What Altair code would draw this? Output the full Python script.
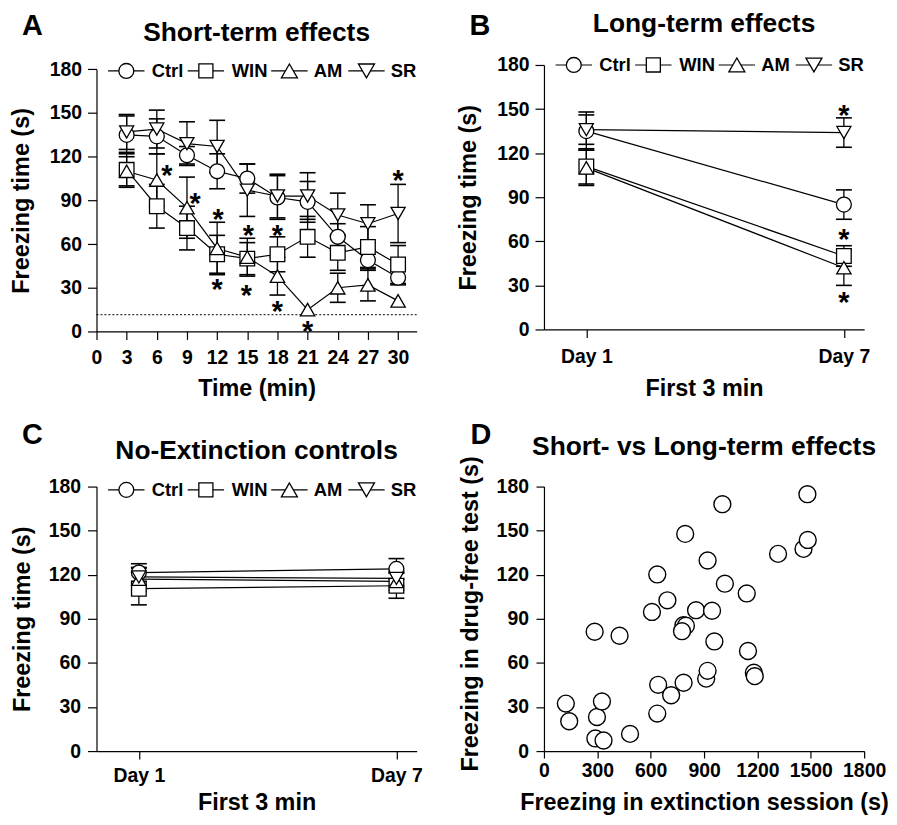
import altair as alt
import pandas as pd

FONT = "Liberation Sans"
GROUPS = ["Ctrl", "WIN", "AM", "SR"]
SHAPES = ["circle", "square", "triangle-up", "triangle-down"]
SIZES = [225, 200, 260, 260]

# ---------------- Panel A: short-term effects ----------------
time_min = [3, 6, 9, 12, 15, 18, 21, 24, 27, 30]
ctrl_mean = [135, 134, 121, 110, 105, 92, 89, 65, 49, 37]
ctrl_sem = [13, 12, 6, 12, 10, 15, 14, 9, 7, 5]
win_mean = [111, 86, 71, 53, 50, 53, 65, 54, 58, 46]
win_sem = [12, 15, 15, 13, 11, 12, 14, 12, 14, 13]
am_mean = [110, 104, 85, 57, 51, 38, 15, 30, 32, 21]
am_sem = [10, 18, 21, 18, 13, 13, 0, 10, 11, 0]
sr_mean = [137, 139, 129, 127, 97, 93, 93, 80, 74, 81]
sr_sem = [12, 13, 15, 18, 18, 15, 16, 15, 13, 20]
threshold_level = [11.5]
star_a_time = [7, 9.8, 12.1, 12, 15.1, 14.9, 18, 18, 21, 30]
star_a_value = [111.5, 92, 81, 33, 70.5, 28.8, 70.5, 18.3, 4.3, 108]

# ---------------- Panel B: long-term effects ----------------
day = [1, 7]
b_ctrl_mean = [135, 85]
b_ctrl_sem = [13, 10]
b_win_mean = [111, 50]
b_win_sem = [12, 7]
b_am_mean = [110, 42]
b_am_sem = [12, 12]
b_sr_mean = [136, 134]
b_sr_sem = [10, 10]
star_b_day = [7, 7, 7]
star_b_value = [150, 65.7, 23]

# ---------------- Panel C: no-extinction controls ----------------
c_ctrl_mean = [121.5, 124]
c_ctrl_sem = [6, 7]
c_win_mean = [110.5, 112.5]
c_win_sem = [11, 8.5]
c_am_mean = [117, 115.5]
c_am_sem = [8, 6]
c_sr_mean = [118.5, 117.5]
c_sr_sem = [6, 5]

# ---------------- Panel D: short vs long-term ----------------
extinction_freezing = [123, 142, 285, 298, 289, 335, 326, 425, 484, 607, 637, 642,
                       637, 694, 715, 794, 784, 798, 776, 785, 855, 945, 920, 958,
                       912, 920, 1003, 1017, 1140, 1147, 1180, 1185, 1316, 1459, 1483, 1481]
drugfree_freezing = [32.3, 20.3, 81.2, 23.2, 8.6, 7.2, 33.8, 78.5, 11.7, 94.7, 120.2, 45.1,
                     25.5, 102.6, 38, 147.8, 85.7, 85.3, 81.6, 46.5, 95.9, 95.5, 129.7, 74.6,
                     49.3, 54.6, 168, 113.9, 107.3, 68.1, 53.3, 51, 134.2, 137.6, 143.7, 174.8]

shape_scale = alt.Scale(domain=GROUPS, range=SHAPES)
size_scale = alt.Scale(domain=GROUPS, range=SIZES)
ONE = pd.DataFrame({"k": [0]})


def long_df(xs, series):
    rows = []
    for g, (means, sems) in zip(GROUPS, series):
        for xv, m, s in zip(xs, means, sems):
            rows.append(dict(x=xv, y=m, lo=m - s, hi=m + s, sem=s, group=g))
    return pd.DataFrame(rows)


def text_mark(txt, x, y, size, align="left"):
    return alt.Chart(ONE).mark_text(
        text=txt, align=align, baseline="alphabetic", font=FONT, fontSize=size,
        fontWeight="bold", color="black"
    ).encode(x=alt.value(x), y=alt.value(y))


def legend_layers(ly):
    out = []
    mxs = [30, 110, 194, 271.5]
    txs = [55.5, 136, 218.5, 296]
    for g, shp, sz, mx, tx in zip(GROUPS, SHAPES, SIZES, mxs, txs):
        out.append(alt.Chart(ONE).mark_rule(color="black", strokeWidth=1.2).encode(
            x=alt.value(mx - 18.3), x2=alt.value(mx + 18.3), y=alt.value(ly)))
        out.append(alt.Chart(ONE).mark_point(
            shape=shp, size=sz, filled=True, fill="white", stroke="black",
            strokeWidth=1.3, opacity=1).encode(x=alt.value(mx), y=alt.value(ly)))
        out.append(alt.Chart(ONE).mark_text(
            text=g, align="left", baseline="middle", font=FONT, fontSize=18.5,
            fontWeight="bold", color="black").encode(x=alt.value(tx), y=alt.value(ly)))
    return out


def group_panel(df, stars, xs, xa, ys, ya, h, letter, letter_y, heading, heading_y,
                legend_y, ref=None):
    X = alt.X("x:Q", scale=xs, axis=xa)
    Y = alt.Y("y:Q", scale=ys, axis=ya)
    layers = []
    if ref is not None:
        layers.append(alt.Chart(pd.DataFrame({"y": ref})).mark_rule(
            color="black", strokeWidth=1, strokeDash=[2, 2]).encode(y=Y))
    layers.append(alt.Chart(df).mark_line(color="black", strokeWidth=1.2).encode(
        x=X, y=Y, detail="group:N", order="x:Q"))
    err = df[df["sem"] > 0]
    layers.append(alt.Chart(err).mark_rule(color="black", strokeWidth=1.3).encode(
        x=X, y=alt.Y("lo:Q", scale=ys, axis=ya), y2="hi:Q"))
    caps = pd.concat([err.assign(cap=err["lo"]), err.assign(cap=err["hi"])])
    layers.append(alt.Chart(caps).mark_tick(
        orient="horizontal", size=16, thickness=1.6, color="black", opacity=1).encode(
        x=X, y=alt.Y("cap:Q", scale=ys, axis=ya)))
    layers.append(alt.Chart(df).mark_point(
        filled=True, fill="white", stroke="black", strokeWidth=1.3, opacity=1).encode(
        x=X, y=Y,
        shape=alt.Shape("group:N", scale=shape_scale, legend=None),
        size=alt.Size("group:N", scale=size_scale, legend=None)))
    if stars is not None:
        layers.append(alt.Chart(stars).mark_text(
            text="*", align="center", baseline="alphabetic", dy=16, font=FONT,
            fontSize=29, fontWeight="bold", color="black").encode(x=X, y=Y))
    layers += legend_layers(legend_y)
    layers.append(text_mark(letter, -75, letter_y, 29))
    layers.append(text_mark(heading, 161, heading_y, 26.5, align="center"))
    return alt.layer(*layers).properties(width=322, height=h)


def y_axis(tick, lp, tp, title="Freezing time (s)", **kw):
    return alt.Axis(values=[0, 30, 60, 90, 120, 150, 180], title=title, tickSize=tick,
                    labelPadding=lp, titlePadding=tp, grid=False, labelOverlap=False, **kw)


# Panel A
dfA = long_df(time_min, [(ctrl_mean, ctrl_sem), (win_mean, win_sem),
                         (am_mean, am_sem), (sr_mean, sr_sem)])
starsA = pd.DataFrame({"x": star_a_time, "y": star_a_value})
xsA = alt.Scale(domain=[0, 31.85], nice=False, zero=False)
xaA = alt.Axis(values=[0] + time_min, title="Time (min)", tickSize=8,
               labelPadding=9, titlePadding=10.3, labelFlush=False, labelOverlap=False,
               grid=False)
ysA = alt.Scale(domain=[0, 180], range=[268, 4.4], nice=False, zero=False)
pA = group_panel(dfA, starsA, xsA, xaA, ysA, y_axis(9, 6, 16), 268, "A", -30,
                 "Short-term effects", -24.3, 6, ref=threshold_level)

# Panel B
dfB = long_df(day, [(b_ctrl_mean, b_ctrl_sem), (b_win_mean, b_win_sem),
                    (b_am_mean, b_am_sem), (b_sr_mean, b_sr_sem)])
starsB = pd.DataFrame({"x": star_b_day, "y": star_b_value})
xsDay = alt.Scale(domain=[0.013, 7.472], nice=False, zero=False)
xaB = alt.Axis(values=day, labelExpr="'Day ' + datum.value", title="First 3 min",
               tickSize=8, labelPadding=10, titlePadding=11, labelFlush=False,
               labelOverlap=False, grid=False)
ysStd = alt.Scale(domain=[0, 180], nice=False, zero=False)
pB = group_panel(dfB, starsB, xsDay, xaB, ysStd, y_axis(9, 6, 16), 266, "B", -30,
                 "Long-term effects", -33.3, 0)

# Panel C
dfC = long_df(day, [(c_ctrl_mean, c_ctrl_sem), (c_win_mean, c_win_sem),
                    (c_am_mean, c_am_sem), (c_sr_mean, c_sr_sem)])
xaC = alt.Axis(values=day, labelExpr="'Day ' + datum.value", title="First 3 min",
               tickSize=8, labelPadding=7.6, titlePadding=6, labelFlush=False,
               labelOverlap=False, grid=False)
pC = group_panel(dfC, None, xsDay, xaC, ysStd, y_axis(9, 7, 14.2), 266, "C", -42.5,
                 "No-Extinction controls", -27.7, 3.3)

# Panel D
dfD = pd.DataFrame({"x": extinction_freezing, "y": drugfree_freezing})
pD = alt.layer(
    alt.Chart(dfD).mark_point(filled=True, fill="white", stroke="black", strokeWidth=1.4,
                              opacity=1, shape="circle", size=289).encode(
        x=alt.X("x:Q", scale=alt.Scale(domain=[0, 1800], nice=False, zero=False),
                axis=alt.Axis(values=[0, 300, 600, 900, 1200, 1500, 1800], format="d",
                              title="Freezing in extinction session (s)", tickSize=7,
                              labelPadding=3.6, titlePadding=11, labelFlush=False,
                              labelOverlap=False, grid=False)),
        y=alt.Y("y:Q", scale=alt.Scale(domain=[0, 180], nice=False, zero=False),
                axis=y_axis(8, 7.6, 14.2, title="Freezing in drug-free test (s)",
                            titleY=127.5))),
    text_mark("D", -74, -42.5, 29),
    text_mark("Short- vs Long-term effects", 161, -31.4, 26.5, align="center"),
).properties(width=322, height=266)

chart = alt.concat(
    pA, pB, pC, pD, columns=2, spacing={"row": 156, "column": 128}, bounds="flush"
).properties(
    padding={"left": 1, "top": 0, "right": 0, "bottom": 0}
).configure_view(stroke=None).configure_axis(
    domainColor="black", domainWidth=1.2, tickColor="black", tickWidth=1.2,
    labelColor="black", titleColor="black", labelFont=FONT, titleFont=FONT,
    labelFontSize=19.5, titleFontSize=23.5, labelFontWeight="bold",
    titleFontWeight="bold", grid=False
)

chart.save("out.html", embed_options={"renderer": "svg", "actions": False})
